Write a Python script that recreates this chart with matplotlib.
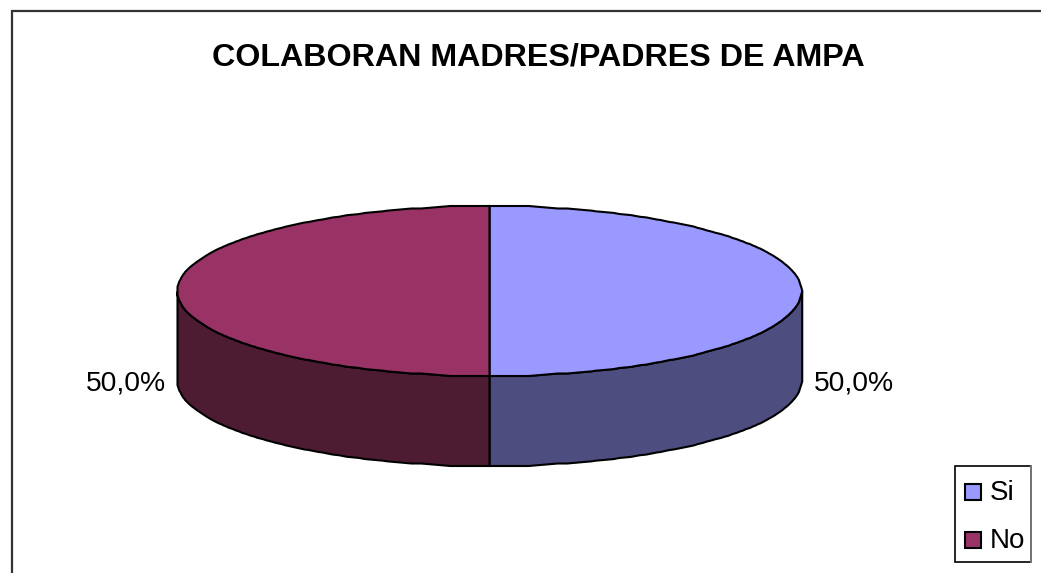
import numpy as np
import matplotlib
matplotlib.use('Agg')
import matplotlib.pyplot as plt
from matplotlib.patches import Rectangle, Polygon

categorias = ['Si', 'No']
valores = [50.0, 50.0]
colores = ['#9999FF', '#993366']
colores_lado = ['#4D4D80', '#4D1C33']
etiquetas = ['50,0%', '50,0%']

W, H = 1041, 573
plt.rcParams['font.family'] = ['Liberation Sans', 'DejaVu Sans']

fig = plt.figure(figsize=(W/100, H/100), dpi=100)
ax = fig.add_axes([0, 0, 1, 1])
ax.set_xlim(0, W)
ax.set_ylim(H, 0)
ax.axis('off')

def escalon(v, desp=0.0, paso=2.5, ventana=9):
    # borde algo dentado, como en la imagen original de baja resolucion
    r = np.round((v - desp) / paso) * paso + desp
    p = np.pad(r, ventana // 2, mode='edge')
    return np.convolve(p, np.ones(ventana) / ventana, mode='valid')

# marco del grafico: solo se ven arriba e izquierda
ax.plot([11.5, 11.5, W], [H, 10.5, 10.5], color='#333333', lw=1.6, solid_joinstyle='miter')

ax.text(538, 57, 'COLABORAN MADRES/PADRES DE AMPA', fontsize=23.2, fontweight='bold',
        ha='center', va='center')

cx, cy, rx, ry, alto = 489.5, 291, 312, 85, 90

# angulos de cada sector a partir de los valores (arriba, sentido horario)
fin = np.cumsum(valores) / np.sum(valores) * 2 * np.pi
ini = np.r_[0, fin[:-1]]

for a0, a1, c, cl in zip(ini, fin, colores, colores_lado):
    t = np.linspace(a0, a1, 300)
    x = escalon(cx + rx * np.sin(t))
    y = escalon(cy - ry * np.cos(t), desp=1.0)
    x[0], x[-1] = cx, cx
    # pared lateral, solo la parte frontal
    lado = np.cos(t) <= 0.0
    xl, yl = x[lado], y[lado]
    pared = np.c_[np.r_[xl, xl[::-1]], np.r_[yl, yl[::-1] + alto]]
    ax.add_patch(Polygon(pared, closed=True, fc=cl, ec='black', lw=1.5, zorder=2))
    tapa = np.c_[np.r_[cx, x], np.r_[cy, y]]
    ax.add_patch(Polygon(tapa, closed=True, fc=c, ec='black', lw=1.5, zorder=3))

ax.text(854, 384, etiquetas[0], fontsize=20.3, ha='center', va='center')
ax.text(126, 384, etiquetas[1], fontsize=20.3, ha='center', va='center')

# leyenda
ax.add_patch(Rectangle((954.5, 466), 76, 96, fc='white', ec='black', lw=1.2))
ax.plot([1030.7, 1030.7], [466, 562], color='#777777', lw=1.4)
for i, (cat, c) in enumerate(zip(categorias, colores)):
    yy = 492 + i * 48
    ax.add_patch(Rectangle((965, yy - 8), 16, 16, fc=c, ec='black', lw=1.5))
    ax.text(990, yy + 1, cat, fontsize=20, ha='left', va='center')

fig.savefig('out.png', dpi=100)
